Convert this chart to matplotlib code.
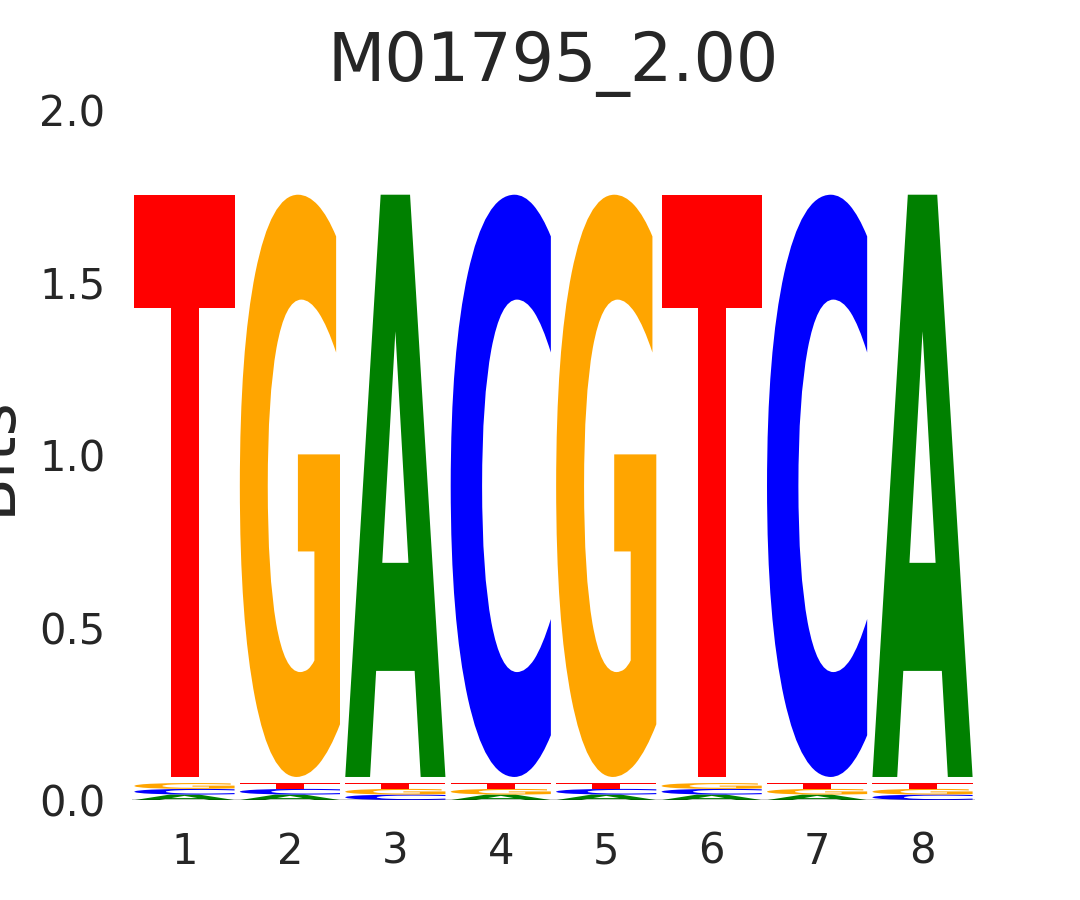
import matplotlib
matplotlib.use("Agg")
import matplotlib.pyplot as plt
import numpy as np
from matplotlib.textpath import TextPath
from matplotlib.patches import PathPatch
from matplotlib.font_manager import FontProperties
from matplotlib.transforms import Affine2D

title = "M01795_2.00"
positions = [1, 2, 3, 4, 5, 6, 7, 8]
letters = ["A", "C", "G", "T"]
# information content (bits) per letter per position
bits_A = [0.0160, 0.0160, 1.687, 0.0160, 0.0160, 0.0160, 0.0160, 1.687]
bits_C = [0.0165, 0.0165, 0.0160, 1.687, 0.0165, 0.0165, 1.687, 0.0160]
bits_G = [0.0170, 1.687, 0.0165, 0.0165, 1.687, 0.0170, 0.0165, 0.0165]
bits_T = [1.687, 0.0170, 0.0170, 0.0170, 0.0170, 1.687, 0.0170, 0.0170]
colors = {"A": "#008000", "C": "#0000ff", "G": "#ffa500", "T": "#ff0000"}
yticks = [0.0, 0.5, 1.0, 1.5, 2.0]

fig = plt.figure(figsize=(10.8, 9), dpi=100)
ax = fig.add_axes([0.122, 0.111, 0.781, 0.767])

fp = FontProperties(family="DejaVu Sans", weight="bold")
width = 0.95
stack_gap = 0.0175  # blank space between the minor letters and the dominant one
table = {"A": bits_A, "C": bits_C, "G": bits_G, "T": bits_T}

def draw_glyph(ax, ch, x, y0, h, color):
    tp = TextPath((0, 0), ch, size=1, prop=fp)
    ext = tp.get_extents()
    sx = width / ext.width
    sy = h / ext.height
    tr = (Affine2D().translate(-ext.x0, -ext.y0).scale(sx, sy)
          .translate(x - width / 2, y0))
    path = tr.transform_path(tp)
    ax.add_patch(PathPatch(path, facecolor=color, edgecolor="none", lw=0))

for i, p in enumerate(positions):
    vals = sorted([(table[l][i], l) for l in letters])
    y = 0.0
    for k, (v, l) in enumerate(vals):
        if k == len(vals) - 1:
            y += stack_gap
        draw_glyph(ax, l, p, y, v, colors[l])
        y += v

ax.axhline(0, color="black", lw=1.0)
ax.set_xlim(0.5, 8.5)
ax.set_ylim(0, 2.0)
ax.set_xticks(positions)
ax.set_xticklabels([str(p) for p in positions])
ax.set_yticks(yticks)
ax.set_yticklabels([f"{t:.1f}" for t in yticks])
for s in ax.spines.values():
    s.set_visible(False)
ax.tick_params(axis="both", length=0, labelsize=30, colors="#262626")
ax.tick_params(axis="y", pad=19)
ax.tick_params(axis="x", pad=22)
ax.set_ylabel("Bits", fontsize=46, color="#262626", labelpad=12)
ax.set_title(title, fontsize=48, color="#262626", pad=21)

fig.savefig("out.png", dpi=100)
